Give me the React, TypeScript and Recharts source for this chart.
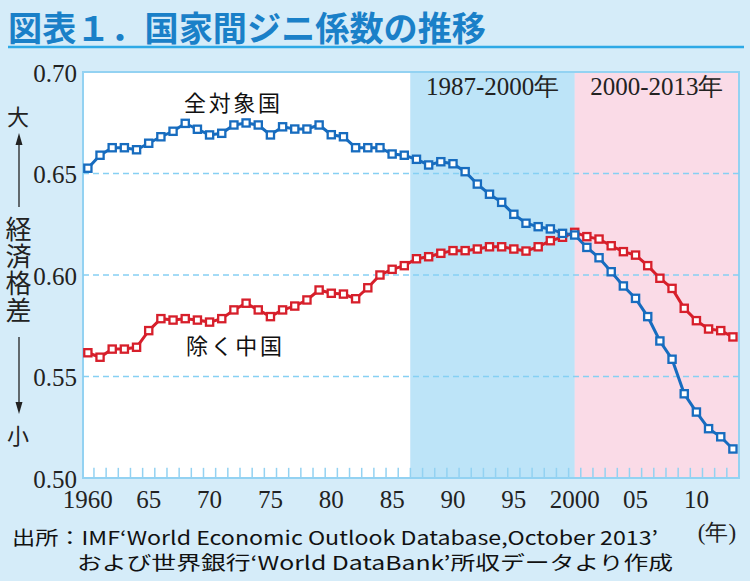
import React from 'react'
import {
  LineChart, Line, XAxis, YAxis, ReferenceArea, ReferenceLine,
} from 'recharts'

// years 1960–2013
const years = [
  1960, 1961, 1962, 1963, 1964, 1965, 1966, 1967, 1968, 1969,
  1970, 1971, 1972, 1973, 1974, 1975, 1976, 1977, 1978, 1979,
  1980, 1981, 1982, 1983, 1984, 1985, 1986, 1987, 1988, 1989,
  1990, 1991, 1992, 1993, 1994, 1995, 1996, 1997, 1998, 1999,
  2000, 2001, 2002, 2003, 2004, 2005, 2006, 2007, 2008, 2009,
  2010, 2011, 2012, 2013,
]

// 全対象国
const allCountries = [
  0.6526, 0.659, 0.6627, 0.6627, 0.6617, 0.6649, 0.6681, 0.6708, 0.6747, 0.6718,
  0.669, 0.6698, 0.6739, 0.6749, 0.6739, 0.669, 0.673, 0.6719, 0.6719, 0.6739,
  0.6691, 0.6681, 0.6627, 0.6627, 0.6627, 0.6596, 0.659, 0.657, 0.6542, 0.6558,
  0.6548, 0.6509, 0.6448, 0.6398, 0.6358, 0.6299, 0.6255, 0.6238, 0.6227, 0.6205,
  0.6197, 0.6136, 0.6085, 0.6016, 0.5946, 0.5885, 0.5795, 0.5675, 0.5585, 0.5415,
  0.5325, 0.5243, 0.5203, 0.5143,
]

// 除く中国
const exChina = [
  0.5617, 0.5595, 0.5635, 0.5635, 0.5644, 0.5726, 0.5785, 0.5778, 0.5785, 0.5778,
  0.5768, 0.5785, 0.5828, 0.5861, 0.5828, 0.5795, 0.5828, 0.5847, 0.5877, 0.5926,
  0.591, 0.5906, 0.5883, 0.5937, 0.6, 0.6028, 0.6046, 0.608, 0.609, 0.6107,
  0.612, 0.612, 0.6128, 0.6139, 0.6139, 0.6128, 0.6118, 0.6139, 0.6169, 0.6186,
  0.621, 0.6189, 0.6177, 0.6144, 0.6115, 0.6098, 0.6046, 0.5984, 0.5934, 0.5836,
  0.5775, 0.5734, 0.5726, 0.5695,
]

const xTicks = [1960, 1965, 1970, 1975, 1980, 1985, 1990, 1995, 2000, 2005, 2010]
const xTickLabels = ['1960', '65', '70', '75', '80', '85', '90', '95', '2000', '05', '10']
const yTicks = [0.5, 0.55, 0.6, 0.65, 0.7]
const gridValues = [0.55, 0.6, 0.65]

const data = years.map((year, i) => ({ year, all: allCountries[i], exChina: exChina[i] }))

const X_MIN = 1959.6
const X_MAX = 2013.5

const BG = '#d5ecf9'
const BLUE = '#176cbf'
const RED = '#d71f2b'
const FRAME = '#93d2f2'
const SERIF = "'Liberation Serif', 'Times New Roman', serif"
const GOTHIC = "'Noto Sans CJK JP', sans-serif"

const squareDot = (color: string) => (props: any) => {
  const { cx, cy, index } = props
  if (cx == null || cy == null) return <g key={index} />
  return (
    <rect key={index} x={cx - 3.6} y={cy - 3.6} width={7.2} height={7.2}
      fill="#fff" stroke={color} strokeWidth={2.3} />
  )
}

export default function App() {
  return (
    <div style={{ position: 'absolute', left: 0, top: 0, width: 750, height: 581, background: BG, overflow: 'hidden' }}>
      <LineChart width={750} height={581} data={data} margin={{ top: 72, right: 11, bottom: 73, left: 0 }}>
        <ReferenceArea x1={X_MIN} x2={1986.5} fill="#ffffff" fillOpacity={1} />
        <ReferenceArea x1={1986.5} x2={2000} fill="#bde4f8" fillOpacity={1}
          label={{ value: '1987-2000年', position: 'insideTop', offset: 5, fill: '#222', fontSize: 25, fontFamily: SERIF }} />
        <ReferenceArea x1={2000} x2={X_MAX} fill="#fadbe7" fillOpacity={1}
          label={{ value: '2000-2013年', position: 'insideTop', offset: 5, fill: '#222', fontSize: 25, fontFamily: SERIF }} />
        {gridValues.map((v) => (
          <ReferenceLine key={v} y={v} stroke="#86d0f3" strokeWidth={1.3} strokeDasharray="6 4" />
        ))}
        {years.slice(0, -1).map((y) => (
          <ReferenceLine key={'t' + y}
            segment={[{ x: y + 0.5, y: 0.5 }, { x: y + 0.5, y: 0.505 }]}
            stroke={FRAME} strokeWidth={1.5} />
        ))}
        <ReferenceArea x1={X_MIN} x2={X_MAX} y1={0.5} y2={0.7} fill="none" stroke={FRAME} strokeWidth={2} />
        <XAxis dataKey="year" type="number" domain={[X_MIN, X_MAX]} ticks={xTicks}
          tickFormatter={(v) => xTickLabels[xTicks.indexOf(v)] ?? ''}
          tickLine={false} axisLine={false} height={30} tickMargin={6} interval={0}
          tick={{ fill: '#222', fontSize: 25, fontFamily: SERIF }} allowDataOverflow />
        <YAxis type="number" domain={[0.5, 0.7]} ticks={yTicks} width={83}
          tickFormatter={(v) => v.toFixed(2)} tickLine={false} axisLine={false} tickMargin={0}
          tick={{ fill: '#222', fontSize: 25, fontFamily: SERIF, dy: 1 }} allowDataOverflow />
        <Line dataKey="exChina" stroke={RED} strokeWidth={3} dot={squareDot(RED)} isAnimationActive={false} />
        <Line dataKey="all" stroke={BLUE} strokeWidth={3} dot={squareDot(BLUE)} isAnimationActive={false} />
      </LineChart>

      <svg width={750} height={581} style={{ position: 'absolute', left: 0, top: 0, pointerEvents: 'none' }}>
        <text x={8} y={41} fontSize={34} fontWeight="bold" fill="#1a80c8" fontFamily={GOTHIC}
          textLength={478} lengthAdjust="spacingAndGlyphs">図表１．国家間ジニ係数の推移</text>
        <line x1={8} x2={744} y1={47} y2={47} stroke="#2ea9e6" strokeWidth={2.5} />
        <text x={232} y={111} fontSize={22} fill="#111" fontFamily={GOTHIC} textAnchor="middle"
          textLength={96} lengthAdjust="spacing">全対象国</text>
        <text x={234} y={354} fontSize={22} fill="#111" fontFamily={GOTHIC} textAnchor="middle"
          textLength={96} lengthAdjust="spacing">除く中国</text>
        <text x={717} y={540} fontSize={23} fill="#222" fontFamily={SERIF} textAnchor="middle">(年)</text>
        <text x={12} y={545} fontSize={19} fill="#111" fontFamily={GOTHIC}
          textLength={646} lengthAdjust="spacingAndGlyphs">出所：IMF‘World Economic Outlook Database,October 2013’</text>
        <text x={77} y={570} fontSize={19} fill="#111" fontFamily={GOTHIC}
          textLength={596} lengthAdjust="spacingAndGlyphs">および世界銀行‘World DataBank’所収データより作成</text>
        <text x={18} y={125} fontSize={22} fill="#222" fontFamily={GOTHIC} textAnchor="middle">大</text>
        <line x1={19} x2={19} y1={138} y2={207} stroke="#222" strokeWidth={1.3} />
        <path d="M19 133 L15.5 145 L22.5 145 Z" fill="#222" />
        <line x1={19} x2={19} y1={337} y2={408} stroke="#222" strokeWidth={1.3} />
        <path d="M19 414 L15.5 402 L22.5 402 Z" fill="#222" />
        <text x={18} y={444} fontSize={22} fill="#222" fontFamily={GOTHIC} textAnchor="middle">小</text>
      </svg>
      <div style={{
        position: 'absolute', left: 4, top: 216, width: 28, height: 116,
        writingMode: 'vertical-rl', fontFamily: GOTHIC, fontSize: 26, lineHeight: '28px',
        letterSpacing: 1, color: '#222',
      }}>経済格差</div>
    </div>
  )
}
